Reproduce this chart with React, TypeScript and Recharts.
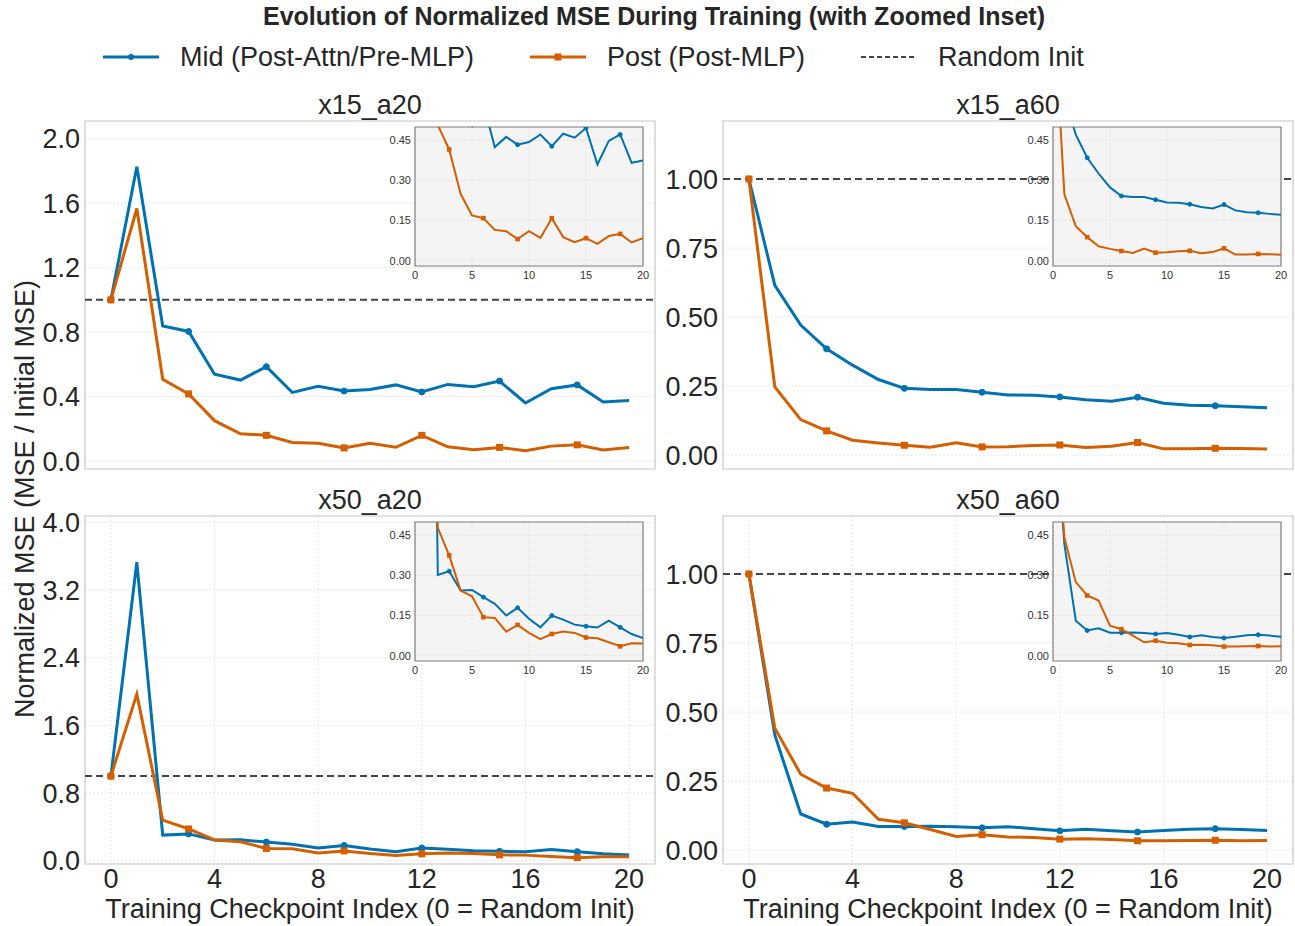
import React from "react";
import {
  CartesianGrid,
  Line,
  LineChart,
  ReferenceArea,
  ReferenceLine,
  XAxis,
  YAxis,
} from "recharts";

const checkpoints = [0, 1, 2, 3, 4, 5, 6, 7, 8, 9, 10, 11, 12, 13, 14, 15, 16, 17, 18, 19, 20];

const x15a20Mid = [1.0, 1.826, 0.837, 0.804, 0.538, 0.502, 0.585, 0.425, 0.463, 0.434, 0.444, 0.472, 0.428, 0.475, 0.46, 0.496, 0.36, 0.448, 0.472, 0.366, 0.375];
const x15a20Post = [1.0, 1.567, 0.507, 0.416, 0.25, 0.169, 0.159, 0.115, 0.11, 0.081, 0.11, 0.085, 0.159, 0.088, 0.069, 0.084, 0.063, 0.092, 0.1, 0.068, 0.084];

const x15a60Mid = [1.0, 0.615, 0.471, 0.385, 0.326, 0.274, 0.242, 0.238, 0.238, 0.228, 0.218, 0.217, 0.211, 0.201, 0.195, 0.21, 0.188, 0.181, 0.179, 0.175, 0.172];
const x15a60Post = [1.0, 0.247, 0.129, 0.088, 0.054, 0.044, 0.036, 0.029, 0.045, 0.03, 0.031, 0.035, 0.037, 0.028, 0.032, 0.046, 0.023, 0.023, 0.025, 0.024, 0.022];

const x50a20Mid = [1.0, 3.53, 0.302, 0.316, 0.244, 0.246, 0.219, 0.194, 0.15, 0.179, 0.138, 0.106, 0.15, 0.135, 0.116, 0.11, 0.105, 0.131, 0.106, 0.081, 0.066];
const x50a20Post = [1.0, 1.97, 0.478, 0.375, 0.244, 0.222, 0.144, 0.141, 0.09, 0.115, 0.085, 0.062, 0.081, 0.09, 0.085, 0.068, 0.065, 0.05, 0.035, 0.046, 0.045];

const x50a60Mid = [1.0, 0.417, 0.131, 0.094, 0.102, 0.086, 0.086, 0.087, 0.085, 0.081, 0.085, 0.078, 0.07, 0.076, 0.07, 0.066, 0.071, 0.076, 0.078, 0.075, 0.071];
const x50a60Post = [1.0, 0.442, 0.275, 0.225, 0.206, 0.112, 0.099, 0.075, 0.05, 0.056, 0.048, 0.046, 0.04, 0.041, 0.039, 0.034, 0.034, 0.035, 0.036, 0.034, 0.035];

const mainXTicks = [0, 4, 8, 12, 16, 20];
const insetXTicks = [0, 5, 10, 15, 20];
const insetYTicks = [0, 0.15, 0.3, 0.45];
const yTicksX15a20 = [0, 0.4, 0.8, 1.2, 1.6, 2.0];
const yTicksX50a20 = [0, 0.8, 1.6, 2.4, 3.2, 4.0];
const yTicksA60 = [0, 0.25, 0.5, 0.75, 1.0];

const BLUE = "#0072B2";
const ORANGE = "#D55E00";
const FONT = '"Liberation Sans", Arial, Helvetica, sans-serif';
const TEXT = "#262626";
const FS = 27;

const FRAME_W = 570;
const FRAME_H = 348;

type PanelProps = {
  name: string;
  mid: number[];
  post: number[];
  x: number;
  y: number;
  yDomain: [number, number];
  yTicks: number[];
  decimals: number;
  bottom: boolean;
};

const markerDot = (shape: "circle" | "square", color: string, size: number) => (props: any) => {
  const { cx, cy, index } = props;
  if (index % 3 !== 0 || cx == null || cy == null) return <g key={`n-${index}`} />;
  if (shape === "circle") {
    return <circle key={`c-${index}`} cx={cx} cy={cy} r={size} fill={color} stroke={color} />;
  }
  return (
    <rect key={`s-${index}`} x={cx - size} y={cy - size} width={size * 2} height={size * 2} fill={color} />
  );
};

const Panel = ({ name, mid, post, x, y, yDomain, yTicks, decimals, bottom }: PanelProps) => {
  const data = checkpoints.map((c, i) => ({ step: c, mid: mid[i], post: post[i] }));
  const axisW = 85;
  const top = 10;
  const right = 6;
  const xAxisH = bottom ? 40 : 18;
  const insetLeft = x + 330;
  const insetTop = y + 6;
  const insetW = 228;
  const insetH = 139;
  const insetAxisW = 38;

  return (
    <>
      <div
        style={{
          position: "absolute",
          left: x,
          top: y - 31,
          width: FRAME_W,
          height: 30,
          lineHeight: "30px",
          textAlign: "center",
          fontSize: FS,
          color: TEXT,
        }}
      >
        {name}
      </div>
      <div style={{ position: "absolute", left: x - axisW, top: y - top }}>
        <LineChart
          width={axisW + FRAME_W + right}
          height={top + FRAME_H + xAxisH}
          data={data}
          margin={{ top, right, bottom: 0, left: 0 }}
        >
          <CartesianGrid stroke="#e6e6e6" strokeDasharray="2 2" />
          <XAxis
            dataKey="step"
            type="number"
            domain={[-1, 21]}
            ticks={mainXTicks}
            interval={0}
            allowDataOverflow
            axisLine={false}
            tickLine={false}
            tickSize={0}
            tick={bottom ? { fontSize: FS, fill: TEXT } : false}
            tickMargin={5}
            height={xAxisH}
          />
          <YAxis
            type="number"
            domain={yDomain}
            ticks={yTicks}
            interval={0}
            allowDataOverflow
            axisLine={false}
            tickLine={false}
            tickSize={0}
            tickMargin={5}
            width={axisW}
            tick={{ fontSize: FS, fill: TEXT }}
            tickFormatter={(v: number) => v.toFixed(decimals)}
          />
          <ReferenceArea
            x1={-1}
            x2={21}
            y1={yDomain[0]}
            y2={yDomain[1]}
            fill="none"
            stroke="#cccccc"
            strokeWidth={1.2}
            ifOverflow="visible"
          />
          <ReferenceLine y={1} stroke="#444444" strokeWidth={2} strokeDasharray="7 4" />
          <Line
            dataKey="mid"
            stroke={BLUE}
            strokeWidth={3}
            dot={markerDot("circle", BLUE, 3)}
            activeDot={false}
            isAnimationActive={false}
          />
          <Line
            dataKey="post"
            stroke={ORANGE}
            strokeWidth={3}
            dot={markerDot("square", ORANGE, 3.5)}
            activeDot={false}
            isAnimationActive={false}
          />
        </LineChart>
      </div>
      {bottom && (
        <div
          style={{
            position: "absolute",
            left: x - 20,
            top: 893,
            width: FRAME_W + 40,
            height: 32,
            lineHeight: "32px",
            textAlign: "center",
            fontSize: FS,
            color: TEXT,
            whiteSpace: "nowrap",
          }}
        >
          Training Checkpoint Index (0 = Random Init)
        </div>
      )}
      <div style={{ position: "absolute", left: insetLeft - insetAxisW, top: insetTop - 4 }}>
        <LineChart
          width={insetAxisW + insetW + 9}
          height={4 + insetH + 20}
          data={data}
          margin={{ top: 4, right: 9, bottom: 0, left: 0 }}
        >
          <CartesianGrid fill="#f4f4f4" fillOpacity={1} stroke="#e2e2e2" strokeDasharray="2 2" />
          <XAxis
            dataKey="step"
            type="number"
            domain={[0, 20]}
            ticks={insetXTicks}
            interval={0}
            allowDataOverflow
            axisLine={false}
            tickLine={false}
            tickSize={0}
            tickMargin={5}
            height={20}
            tick={{ fontSize: 11, fill: "#333333" }}
          />
          <YAxis
            type="number"
            domain={[-0.02, 0.5]}
            ticks={insetYTicks}
            interval={0}
            allowDataOverflow
            axisLine={false}
            tickLine={false}
            tickSize={0}
            tickMargin={4}
            width={insetAxisW}
            tick={{ fontSize: 11, fill: "#333333" }}
            tickFormatter={(v: number) => v.toFixed(2)}
          />
          <ReferenceArea
            x1={0}
            x2={20}
            y1={-0.02}
            y2={0.5}
            fill="none"
            stroke="#808080"
            strokeWidth={1.2}
            ifOverflow="visible"
          />
          <Line
            dataKey="mid"
            stroke={BLUE}
            strokeWidth={2}
            dot={markerDot("circle", BLUE, 2)}
            activeDot={false}
            isAnimationActive={false}
          />
          <Line
            dataKey="post"
            stroke={ORANGE}
            strokeWidth={2}
            dot={markerDot("square", ORANGE, 2.3)}
            activeDot={false}
            isAnimationActive={false}
          />
        </LineChart>
      </div>
    </>
  );
};

const LegendItem = ({ label, color, kind }: { label: string; color: string; kind: "circle" | "square" | "dash" }) => (
  <div style={{ display: "flex", alignItems: "center" }}>
    <svg width={58} height={20} style={{ marginRight: 20 }}>
      <line
        x1={1}
        x2={57}
        y1={10}
        y2={10}
        stroke={color}
        strokeWidth={kind === "dash" ? 2 : 3}
        strokeDasharray={kind === "dash" ? "5 3" : undefined}
      />
      {kind === "circle" && <circle cx={29} cy={10} r={3} fill={color} />}
      {kind === "square" && <rect x={25.5} y={6.5} width={7} height={7} fill={color} />}
    </svg>
    <span>{label}</span>
  </div>
);

const App = () => {
  return (
    <div
      style={{
        position: "absolute",
        left: 0,
        top: 0,
        width: 1295,
        height: 926,
        background: "#ffffff",
        fontFamily: FONT,
        color: TEXT,
      }}
    >
      <div
        style={{
          position: "absolute",
          left: 0,
          top: 2,
          width: 1308,
          textAlign: "center",
          fontSize: 25,
          fontWeight: "bold",
          lineHeight: "28px",
        }}
      >
        Evolution of Normalized MSE During Training (with Zoomed Inset)
      </div>
      <div
        style={{
          position: "absolute",
          left: 102,
          top: 40,
          display: "flex",
          gap: 55,
          fontSize: FS,
          lineHeight: "34px",
        }}
      >
        <LegendItem label="Mid (Post-Attn/Pre-MLP)" color={BLUE} kind="circle" />
        <LegendItem label="Post (Post-MLP)" color={ORANGE} kind="square" />
        <LegendItem label="Random Init" color="#444444" kind="dash" />
      </div>
      <div
        style={{
          position: "absolute",
          left: 25,
          top: 499,
          transform: "translate(-50%, -50%) rotate(-90deg)",
          whiteSpace: "nowrap",
          fontSize: FS,
        }}
      >
        Normalized MSE (MSE / Initial MSE)
      </div>

      <Panel name="x15_a20" mid={x15a20Mid} post={x15a20Post} x={85} y={121} yDomain={[-0.05, 2.11]} yTicks={yTicksX15a20} decimals={1} bottom={false} />
      <Panel name="x15_a60" mid={x15a60Mid} post={x15a60Post} x={723} y={121} yDomain={[-0.05, 1.21]} yTicks={yTicksA60} decimals={2} bottom={false} />
      <Panel name="x50_a20" mid={x50a20Mid} post={x50a20Post} x={85} y={516} yDomain={[-0.04, 4.077]} yTicks={yTicksX50a20} decimals={1} bottom />
      <Panel name="x50_a60" mid={x50a60Mid} post={x50a60Post} x={723} y={516} yDomain={[-0.05, 1.21]} yTicks={yTicksA60} decimals={2} bottom />
    </div>
  );
};

export default App;
